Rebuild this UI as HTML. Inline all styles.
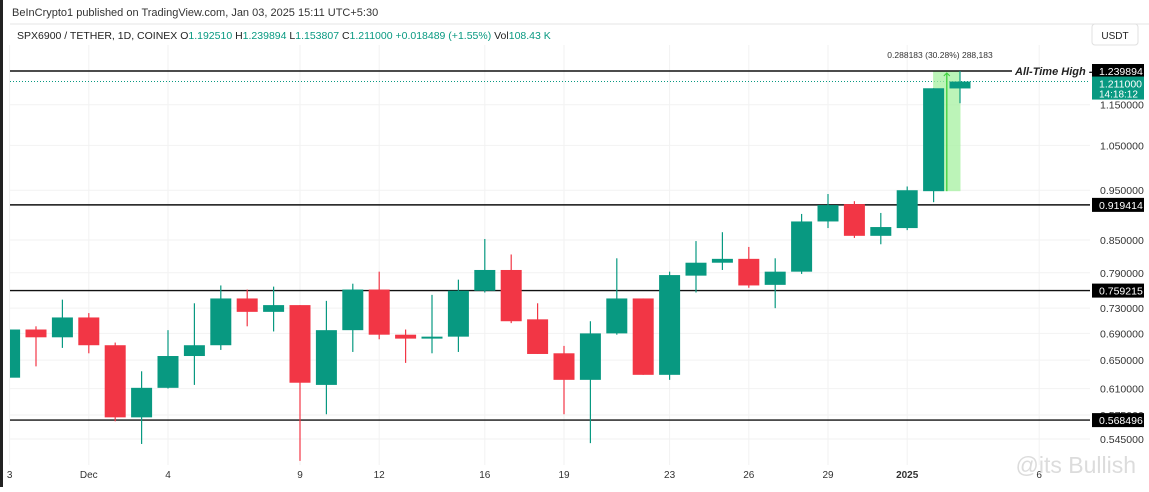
<!DOCTYPE html>
<html><head><meta charset="utf-8"><style>
body{margin:0;width:1149px;height:487px;overflow:hidden;background:#fff;font-family:"Liberation Sans",sans-serif}
svg text{font-family:"Liberation Sans",sans-serif}
</style></head><body>
<svg id="c" width="1149" height="487">
<defs><clipPath id="plot"><rect x="10" y="45" width="1080" height="420"/></clipPath></defs>
<rect x="0" y="0" width="1149" height="487" fill="#fff"/>
<rect x="0" y="0" width="3" height="487" fill="#222"/>
<text x="12" y="16" font-size="11" fill="#333">BeInCrypto1 published on TradingView.com, Jan 03, 2025 15:11 UTC+5:30</text>
<line x1="10" y1="24" x2="1149" y2="24" stroke="#e6e6e6"/>
<text x="17" y="39" font-size="10.5" fill="#222">SPX6900 / TETHER, 1D, COINEX <tspan>O</tspan><tspan fill="#089981">1.192510</tspan> H<tspan fill="#089981">1.239894</tspan> L<tspan fill="#089981">1.153807</tspan> C<tspan fill="#089981">1.211000</tspan> <tspan fill="#089981">+0.018489 (+1.55%)</tspan> Vol<tspan fill="#089981">108.43 K</tspan></text>
<rect x="1092" y="24" width="46" height="21" rx="3" fill="#fff" stroke="#e0e0e0"/>
<text x="1115" y="39" font-size="10" fill="#222" text-anchor="middle">USDT</text>
<g id="grid"></g><g id="levels"></g><g id="candles" clip-path="url(#plot)"></g><g id="axis"></g>
<text x="1136" y="473" font-size="23" fill="#dcdcdc" text-anchor="end">@its Bullish</text>
</svg>
<script>
const categories=['3','','','Dec','','','4','','','','','9','','','12','','','','16','','','19','','','','23','','','26','','','29','','','2025','','','','','6'];
const opens=[0.625,0.696,0.684,0.715,0.672,0.572,0.611,0.656,0.672,0.746,0.724,0.735,0.615,0.695,0.761,0.688,0.682,0.685,0.759,0.795,0.712,0.660,0.622,0.690,0.746,0.629,0.785,0.808,0.815,0.769,0.792,0.886,0.921,0.858,0.873,0.948,1.1925];
const closes=[0.696,0.684,0.715,0.672,0.572,0.611,0.656,0.672,0.746,0.724,0.735,0.618,0.695,0.761,0.688,0.682,0.685,0.759,0.795,0.709,0.659,0.622,0.690,0.746,0.629,0.786,0.808,0.815,0.768,0.792,0.886,0.919,0.858,0.875,0.950,1.193,1.211];
const highs=[0.696,0.701,0.744,0.722,0.676,0.634,0.695,0.738,0.768,0.761,0.766,0.735,0.742,0.771,0.792,0.696,0.752,0.778,0.852,0.823,0.738,0.671,0.709,0.816,0.746,0.792,0.848,0.865,0.837,0.816,0.901,0.942,0.927,0.903,0.958,1.193,1.239894];
const lows=[0.625,0.641,0.668,0.660,0.567,0.539,0.610,0.615,0.665,0.701,0.693,0.519,0.576,0.662,0.681,0.646,0.660,0.662,0.756,0.706,0.659,0.576,0.540,0.688,0.629,0.622,0.756,0.795,0.764,0.730,0.788,0.873,0.854,0.842,0.869,0.925,1.1538];
const tickValues=[1.15,1.05,0.95,0.85,0.79,0.73,0.69,0.65,0.61,0.575,0.545];
const tickLabels=['1.150000','1.050000','0.950000','0.850000','0.790000','0.730000','0.690000','0.650000','0.610000','0.575000','0.545000'];
const levelValues=[1.239894,0.919414,0.759215,0.568496];
const levelLabels=['1.239894','0.919414','0.759215','0.568496'];
const lastPrice=1.211;
const NS='http://www.w3.org/2000/svg';
const X0=9.6,DX=26.4,RIGHT=1090;
const yOf=p=>71+(Math.log(1.239894)-Math.log(p))*447.7;
const xOf=i=>X0+DX*i;
function mk(tag,attrs,parent){const e=document.createElementNS(NS,tag);for(const k in attrs)e.setAttribute(k,attrs[k]);parent.appendChild(e);return e;}
const grid=document.getElementById('grid'),lv=document.getElementById('levels'),cd=document.getElementById('candles'),ax=document.getElementById('axis');
tickValues.forEach((v,i)=>{const y=yOf(v);
 const l=mk('line',{x1:10,x2:RIGHT,y1:y,y2:y,stroke:'#f2f2f2'},grid);
 
 
 const t=mk('text',{x:1100,y:y+4,'font-size':10.5,fill:'#333'},ax);t.textContent=tickLabels[i];
 
 
});
categories.forEach((c,i)=>{if(!c)return;const x=xOf(i);
 const l=mk('line',{x1:x,x2:x,y1:45,y2:465,stroke:'#f2f2f2'},grid);
 
 
 const t=mk('text',{x:x,y:478,'font-size':10,fill:'#333','text-anchor':'middle','font-weight':c==='2025'?'bold':'normal'},ax);t.textContent=c;
 
 
});
const yl=yOf(lastPrice);
mk('line',{x1:10,x2:RIGHT,y1:yl,y2:yl,stroke:'#089981','stroke-dasharray':'1 2'},lv);
const rx1=xOf(35)-0.5,rx2=xOf(36)+0.5;
const rb=mk('rect',{x:rx1,y:yOf(highs[36]),width:rx2-rx1,height:yOf(opens[35])-yOf(highs[36]),fill:'#a5f0a0',opacity:0.75},lv);


levelValues.forEach((v,i)=>{const y=yOf(v);
 const l=mk('line',{x1:10,x2:i===0?1012:RIGHT,y1:y,y2:y,stroke:'#111','stroke-width':1.4},lv);
 
 
 const r=mk('rect',{x:1092,y:y-7,width:52,height:14,fill:'#000'},ax);
 
 
 const t=mk('text',{x:1099,y:y+4,'font-size':10.5,fill:'#fff'},ax);t.textContent=levelLabels[i];
 
 
});
const ath=mk('text',{x:1015,y:yOf(levelValues[0])+4,'font-size':11,'font-style':'italic','font-weight':'bold',fill:'#222'},lv);ath.textContent='All-Time High -';


opens.forEach((o,i)=>{const c=closes[i],col=c>=o?'#089981':'#f23645',x=xOf(i);
 const w=mk('line',{x1:x,x2:x,y1:yOf(highs[i]),y2:yOf(lows[i]),stroke:col,'stroke-width':1.2},cd);
 
 
 const yt=yOf(Math.max(o,c)),yb=yOf(Math.min(o,c));
 const b=mk('rect',{x:x-10.5,y:yt,width:21,height:Math.max(1.5,yb-yt),fill:col},cd);
 
 
});
const mx=(rx1+rx2)/2;
mk('line',{x1:mx,x2:mx,y1:yOf(highs[36])+2,y2:yOf(opens[35]),stroke:'#3ad13a','stroke-width':1.3},cd);
mk('path',{d:`M${mx-3},${yOf(highs[36])+5} L${mx},${yOf(highs[36])+2} L${mx+3},${yOf(highs[36])+5}`,stroke:'#3ad13a',fill:'none'},cd);
const mt=mk('text',{x:940,y:58,'font-size':8.5,fill:'#333','text-anchor':'middle'},ax);mt.textContent='0.288183 (30.28%) 288,183';


const pt=mk('rect',{x:1092,y:yl-5,width:52,height:23,fill:'#089981'},ax);


const t1=mk('text',{x:1099,y:yl+6,'font-size':10.5,fill:'#fff'},ax);t1.textContent='1.211000';
const t2=mk('text',{x:1099,y:yl+16,'font-size':10,fill:'#fff'},ax);t2.textContent='14:18:12';
</script>
</body></html>
